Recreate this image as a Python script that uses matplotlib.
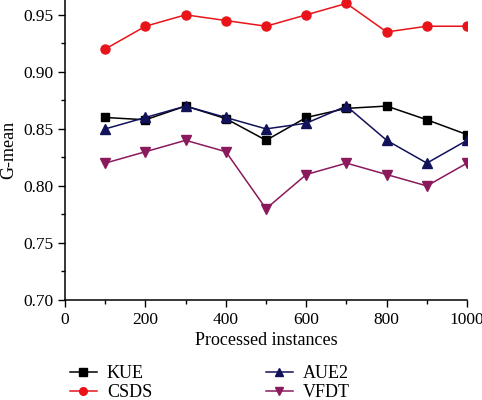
import matplotlib.pyplot as plt
from matplotlib.ticker import MultipleLocator

plt.rcParams["font.family"] = ["Liberation Serif", "DejaVu Serif"]

instances = [100, 200, 300, 400, 500, 600, 700, 800, 900, 1000]
kue = [0.860, 0.858, 0.870, 0.859, 0.840, 0.860, 0.868, 0.870, 0.858, 0.845]
csds = [0.920, 0.940, 0.950, 0.945, 0.940, 0.950, 0.960, 0.935, 0.940, 0.940]
aue2 = [0.850, 0.860, 0.870, 0.860, 0.850, 0.855, 0.870, 0.840, 0.820, 0.840]
vfdt = [0.820, 0.830, 0.840, 0.830, 0.780, 0.810, 0.820, 0.810, 0.800, 0.820]

fig = plt.figure(figsize=(4.82, 4.0), dpi=100)
ax = fig.add_axes([0.135, 0.25, 0.834, 0.75])

ax.plot(instances, kue, color="black", marker="s", ms=6, lw=1.1, label="KUE")
ax.plot(instances, csds, color="#e8141a", marker="o", ms=6.5, lw=1.1, label="CSDS")
ax.plot(instances, aue2, color="#12125a", marker="^", ms=7, lw=1.1, label="AUE2")
ax.plot(instances, vfdt, color="#8a1a5c", marker="v", ms=7, lw=1.1, label="VFDT")

ax.set_xlim(0, 1000)
ax.set_ylim(0.70, 0.963)
ax.xaxis.set_major_locator(MultipleLocator(200))
ax.xaxis.set_minor_locator(MultipleLocator(100))
ax.yaxis.set_major_locator(MultipleLocator(0.05))
ax.yaxis.set_minor_locator(MultipleLocator(0.025))
ax.yaxis.set_major_formatter(plt.FormatStrFormatter("%.2f"))
ax.tick_params(which="major", length=5, width=1, labelsize=12.5)
ax.tick_params(which="minor", length=3, width=1)
for side in ("top", "right"):
    ax.spines[side].set_visible(False)
for side in ("left", "bottom"):
    ax.spines[side].set_linewidth(1.1)

ax.set_xlabel("Processed instances", fontsize=13, labelpad=3)
ax.set_ylabel("G-mean", fontsize=13, labelpad=4)

# column-wise fill: KUE / CSDS on the left, AUE2 / VFDT on the right
fig.legend(ncol=2, loc="upper left", bbox_to_anchor=(0.13, 0.105),
           frameon=False, fontsize=13, handlelength=1.5, columnspacing=6.3,
           labelspacing=0.1, handletextpad=0.55, borderaxespad=0,
           markerscale=0.85)

fig.savefig("out.png", dpi=100)
